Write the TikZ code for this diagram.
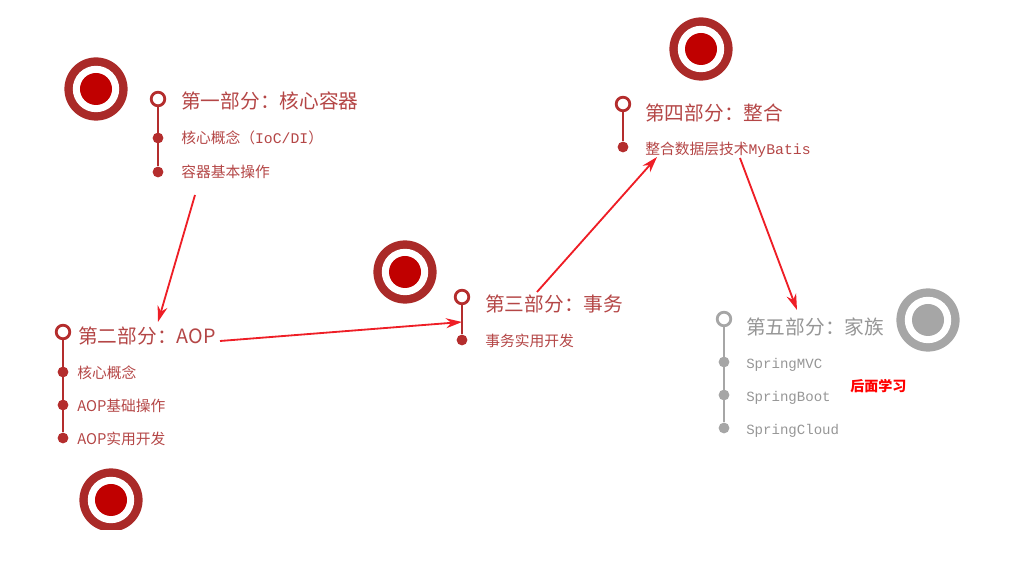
\documentclass[tikz,border=0pt]{standalone}
\usepackage{fontspec}
\usetikzlibrary{arrows.meta}
\newfontfamily\cjk{Noto Sans CJK SC}
\newfontfamily\mono{Liberation Mono}
\definecolor{ringred}{RGB}{170,42,40}
\definecolor{dotred}{RGB}{192,0,0}
\definecolor{linered}{RGB}{180,45,45}
\definecolor{textred}{RGB}{180,70,70}
\definecolor{arrowred}{RGB}{238,30,38}
\definecolor{ringgray}{RGB}{166,166,166}
\definecolor{textgray}{RGB}{150,150,150}

% ring, gap and centre of one target
\newcommand{\bullseye}[3]{%
  \fill[#1] (#3) circle (0.79cm);
  \fill[white] (#3) circle (0.58cm);
  \fill[#2] (#3) circle (0.4cm);}

\tikzset{
  title/.style={anchor=west, inner sep=0pt, text=textred, font=\cjk\fontsize{14}{16}\selectfont},
  item/.style={anchor=west, inner sep=0pt, text=textred, font=\cjk\fontsize{10.5}{12}\selectfont},
  headdot/.style={circle, draw=linered, line width=2pt, fill=white, minimum size=0.34cm, inner sep=0pt},
  subdot/.style={circle, fill=linered, minimum size=0.27cm, inner sep=0pt},
  stem/.style={draw=linered, line width=2pt},
  jump/.style={draw=arrowred, line width=1.3pt, -{Stealth[length=0.4cm, width=0.25cm]}},
}

\begin{document}
\begin{tikzpicture}[x=0.025cm, y=-0.025cm]
\useasboundingbox (0,0) rectangle (1022,569);

% targets
\begin{scope}
\clip (0,0) rectangle (1022,530);
\bullseye{ringred}{dotred}{96,89}
\bullseye{ringred}{dotred}{111,500}
\bullseye{ringred}{dotred}{405,272}
\bullseye{ringred}{dotred}{701,49}
\bullseye{ringgray}{ringgray}{928,320}
\end{scope}

% part one
\node[headdot] (h1) at (158,99) {};
\node[subdot] (d11) at (158,138) {};
\node[subdot] (d12) at (158,172) {};
\draw[stem] (h1.south) -- (d12);
\node[title] (t1) at (181,101) {第一部分：核心容器};
\node[item] (i11) at (181,138) {核心概念（{\mono IoC/DI}）};
\node[item] (i12) at (181,172) {容器基本操作};

% part two
\node[headdot] (h2) at (63,332) {};
\node[subdot] (d21) at (63,372) {};
\node[subdot] (d22) at (63,405) {};
\node[subdot] (d23) at (63,438) {};
\draw[stem] (h2.south) -- (d23);
\node[title] (t2) at (78,336) {第二部分：AOP};
\node[item] (i21) at (77,373) {核心概念};
\node[item] (i22) at (77,406) {AOP基础操作};
\node[item] (i23) at (77,439) {AOP实用开发};

% part three
\node[headdot] (h3) at (462,297) {};
\node[subdot] (d31) at (462,340) {};
\draw[stem] (h3.south) -- (d31);
\node[title] (t3) at (485,304) {第三部分：事务};
\node[item] (i31) at (485,341) {事务实用开发};

% part four
\node[headdot] (h4) at (623,104) {};
\node[subdot] (d41) at (623,147) {};
\draw[stem] (h4.south) -- (d41);
\node[title] (t4) at (645,113) {第四部分：整合};
\node[item] (i41) at (645,150) {整合数据层技术{\mono MyBatis}};

% part five
\node[headdot, draw=ringgray] (h5) at (724,319) {};
\node[subdot, fill=ringgray] (d51) at (724,362) {};
\node[subdot, fill=ringgray] (d52) at (724,395) {};
\node[subdot, fill=ringgray] (d53) at (724,428) {};
\draw[stem, draw=ringgray] (h5.south) -- (d53);
\node[title, text=textgray] (t5) at (746,327) {第五部分：家族};
\node[item, text=textgray, font=\mono\fontsize{10}{12}\selectfont] (i51) at (746,365) {SpringMVC};
\node[item, text=textgray, font=\mono\fontsize{10}{12}\selectfont] (i52) at (746,398) {SpringBoot};
\node[item, text=textgray, font=\mono\fontsize{10}{12}\selectfont] (i53) at (746,431) {SpringCloud};
\node[item, text=red, font=\cjk\bfseries\fontsize{10}{12}\selectfont] (later) at (850,386) {后面学习};

% arrows
\coordinate (a1s) at (195,195);
\coordinate (a1e) at (158,322);
\coordinate (a2s) at (220,341);
\coordinate (a2e) at (462,322);
\coordinate (a3s) at (537,292);
\coordinate (a3e) at (657,157);
\coordinate (a4s) at (740,158);
\coordinate (a4e) at (797,310);
\draw[jump] (a1s) -- (a1e);
\draw[jump] (a2s) -- (a2e);
\draw[jump] (a3s) -- (a3e);
\draw[jump] (a4s) -- (a4e);

\end{tikzpicture}
\end{document}
